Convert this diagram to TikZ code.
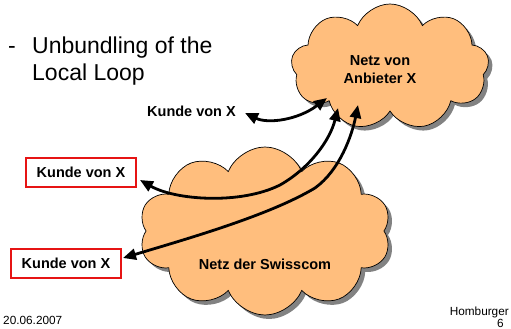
\documentclass[tikz,border=0pt]{standalone}
\usepackage{fontspec}
\setmainfont{Liberation Sans}
\usetikzlibrary{shapes.symbols,arrows.meta}
\definecolor{cloudfill}{RGB}{255,190,125}
\definecolor{shadowgray}{RGB}{130,130,130}
\definecolor{boxred}{RGB}{230,20,20}
\tikzset{
  cloudshape/.style={cloud, cloud puffs=#1, cloud puff arc=135, inner sep=0pt},
  cloudmain/.style={fill=cloudfill, draw=black, line width=0.7pt},
  cloudshadow/.style={fill=shadowgray, draw=none},
  lbl/.style={font=\fontsize{14.5}{17}\selectfont\bfseries, inner sep=0pt},
  kbox/.style={lbl, draw=boxred, line width=2pt, minimum width=110pt, minimum height=29pt},
  conn/.style={line width=2.8pt, {Triangle[length=13pt,width=11pt]}-{Triangle[length=13pt,width=11pt]}},
  small/.style={font=\fontsize{11.8}{14}\selectfont, inner sep=0pt},
}
\begin{document}
\begin{tikzpicture}[x=1pt,y=-1pt]
\useasboundingbox (0,0) rectangle (511,329);
\clip (0,0) rectangle (511,329);
% title
\node[anchor=base west, inner sep=0pt, font=\fontsize{23}{27}\selectfont] (dash) at (8,54) {-};
\node[anchor=base west, inner sep=0pt, font=\fontsize{23}{27}\selectfont] (t1) at (32,54) {Unbundling of the};
\node[anchor=base west, inner sep=0pt, font=\fontsize{23}{27}\selectfont] (t2) at (32,81) {Local Loop};
% clouds
\node[cloudshape=10, cloudshadow, aspect=1.6, minimum width=252pt, minimum height=168pt] (swsh) at (269,235) {};
\node[cloudshape=10, cloudmain, aspect=1.6, minimum width=252pt, minimum height=168pt] (sw) at (265,231) {};
\node[cloudshape=9, cloudshadow, aspect=1.55, minimum width=198pt, minimum height=126pt] (nxsh) at (394,71) {};
\node[cloudshape=9, cloudmain, aspect=1.55, minimum width=198pt, minimum height=126pt] (nx) at (390,67) {};
\node[lbl, align=center] (nxl) at (380,70) {Netz von\\[1pt]Anbieter X};
\node[lbl] (swl) at (265,264) {Netz der Swisscom};
% customer labels
\node[lbl] (k0) at (191.5,111.5) {Kunde von X};
\node[kbox] (k1) at (81,172.5) {Kunde von X};
\node[kbox] (k2) at (66,263.5) {Kunde von X};
% arrow end points on the provider network
\coordinate (pa) at (327,98);
\coordinate (pb) at (338,108);
\coordinate (pc) at (358,105);
\coordinate (ka) at (245,113);
\coordinate (kb) at (140,180);
\coordinate (kc) at (123,258);
\draw[conn] (ka) .. controls (268,124) and (298,120) .. (pa);
\draw[conn] (kb) .. controls (175,200) and (240,205) .. (280,185) .. controls (310,168) and (330,140) .. (pb);
\draw[conn] (kc) .. controls (190,238) and (270,215) .. (315,188) .. controls (340,170) and (352,135) .. (pc);
% footer
\node[small, anchor=base west] (date) at (3,324) {20.06.2007};
\node[small, anchor=base east] (hb) at (509,315) {Homburger};
\node[small, anchor=base east] (pg) at (504,327.5) {6};
\end{tikzpicture}
\end{document}
